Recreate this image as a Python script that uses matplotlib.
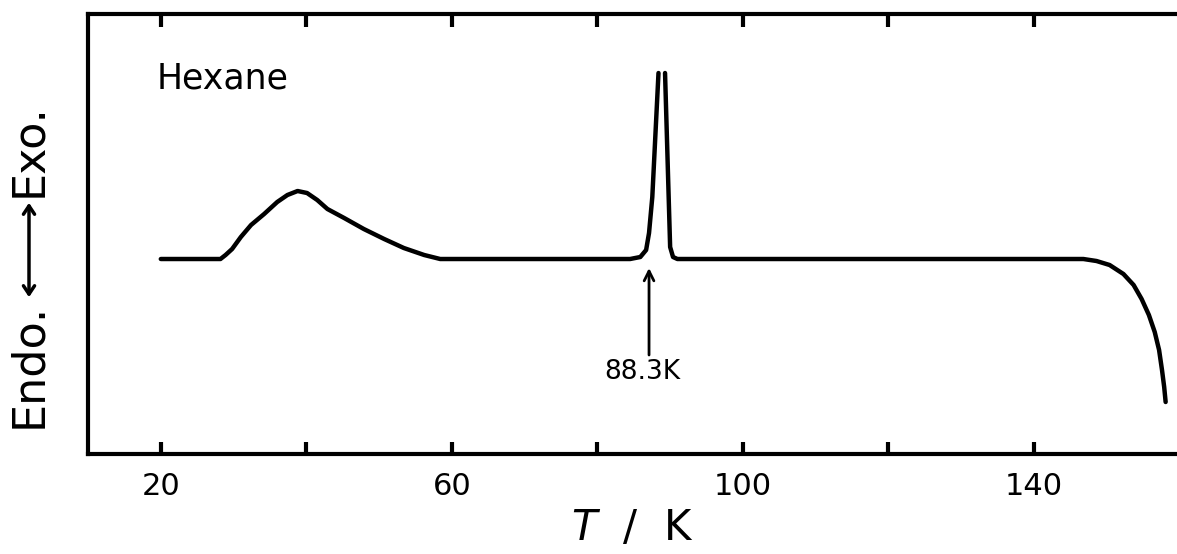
"""
DTA trace of hexane: Endo/Exo signal against temperature.
"""

import numpy as np
import matplotlib
matplotlib.use("Agg")
import matplotlib.pyplot as plt
from matplotlib.patches import FancyArrowPatch

# Trace (signal in arbitrary units, baseline = 0).
# NaN splits the sharp peak where the pen went off the scale.
temperature = [20, 28.2, 28.9, 29.8, 31.0, 32.4, 34.2, 36.0, 37.4, 38.8, 40.1,
               41.5, 42.9, 45.2, 47.9, 50.7, 53.4, 56.2, 58.4,
               84.5, 85.9, 86.7, 87.1, 87.55, 88.4, np.nan,
               89.3, 90.0, 90.4, 91.0,
               146.8, 148.6, 150.4, 152.3, 153.7, 154.8, 155.8, 156.6,
               157.2, 157.6, 157.9, 158.1]
signal = [0, 0, 4, 10, 22, 34, 45, 57, 64, 68, 66,
          59, 50, 41, 30, 20, 11, 4, 0,
          0, 2, 9, 26, 62, 186, np.nan,
          186, 12, 2, 0,
          0, -2, -6, -15, -26, -40, -56, -73,
          -91, -111, -128, -143]

tick_values = [20, 40, 60, 80, 100, 120, 140]
tick_labels = ["20", "", "60", "", "100", "", "140"]

sample_name = "Hexane"
transition_label = "88.3K"
transition_T = 87.1

fig = plt.figure(figsize=(11.77, 5.54), dpi=100)
ax = fig.add_axes([0.0748, 0.1805, 0.9242, 0.7942])

ax.plot(temperature, signal, color="black", linewidth=3.2,
        solid_capstyle="round", solid_joinstyle="round")

ax.set_xlim(10, 159.5)
ax.set_ylim(-195, 245)

ax.set_xticks(tick_values)
ax.set_xticklabels(tick_labels, fontsize=22)
ax.set_yticks([])
ax.tick_params(axis="x", direction="in", length=9, width=3,
               top=True, bottom=True, pad=13)

for side in ["left", "top", "bottom"]:
    ax.spines[side].set_linewidth(3)
ax.spines["right"].set_visible(False)

# sample name
ax.text(19.45, 181, sample_name, fontsize=25, ha="left", va="center")

# transition marker
ax.annotate("", xy=(transition_T, -9), xytext=(transition_T, -96),
            arrowprops=dict(arrowstyle="->,head_length=0.7,head_width=0.35",
                            lw=2, color="black", shrinkA=0, shrinkB=0))
ax.text(transition_T - 0.9, -113, transition_label, fontsize=19,
        ha="center", va="center")

ax.set_xlabel("$T$  /  K", fontsize=30, labelpad=4)

# y label built from pieces: Endo. <--> Exo.
ylab_x = 29 / 1177
fig.text(ylab_x, 1 - 303 / 554, "Endo.", rotation=90, fontsize=32,
         ha="right", va="center", rotation_mode="anchor")
fig.text(ylab_x, 1 - 197 / 554, "Exo.", rotation=90, fontsize=32,
         ha="left", va="center", rotation_mode="anchor")
fig.patches.append(FancyArrowPatch(
    (ylab_x, 1 - 300 / 554), (ylab_x, 1 - 200 / 554),
    transform=fig.transFigure, arrowstyle="<->,head_length=6,head_width=4",
    lw=2.5, color="black", mutation_scale=1))

fig.savefig("out.png", dpi=100)
